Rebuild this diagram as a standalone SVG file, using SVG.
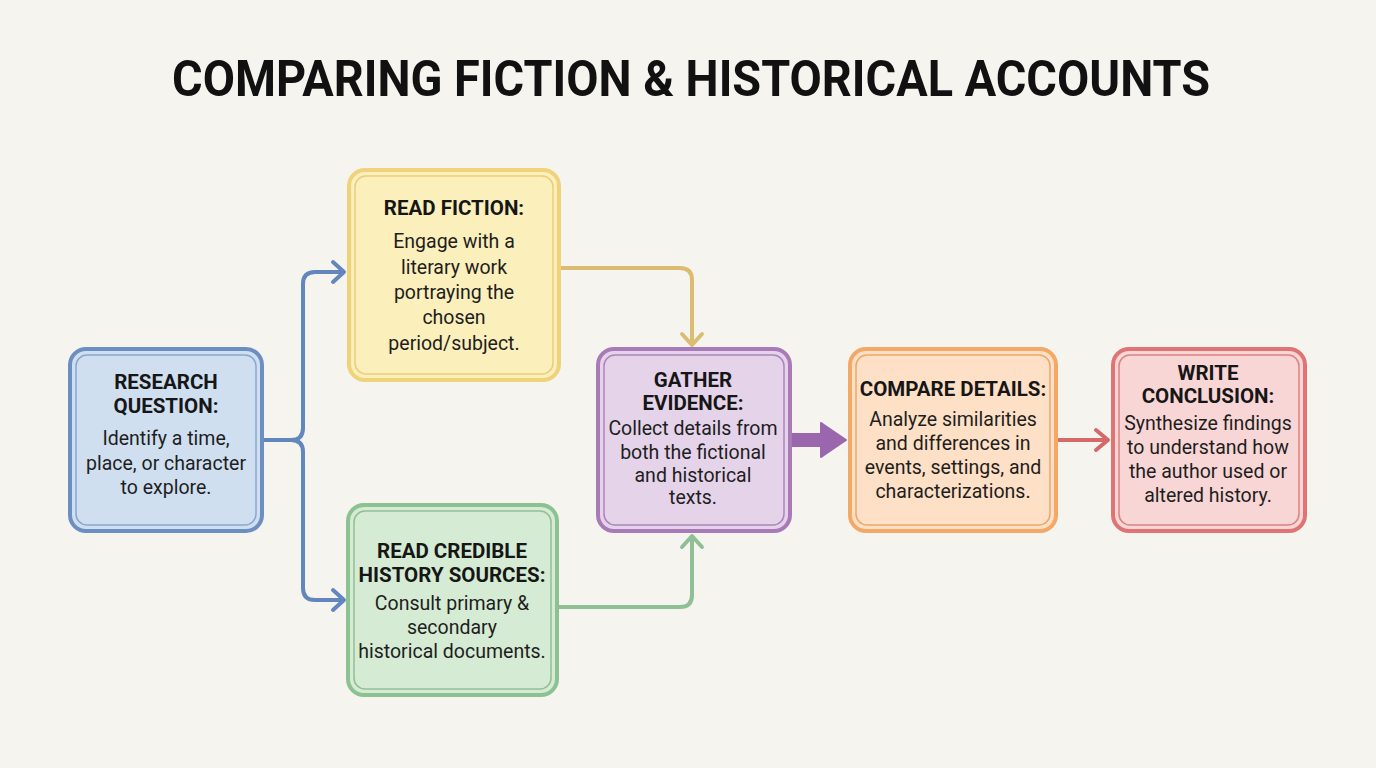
<svg xmlns="http://www.w3.org/2000/svg" width="1376" height="768" viewBox="0 0 1376 768">
<defs>
<style>
.title{font-family:Roboto,"Liberation Sans",sans-serif;font-weight:700;font-size:50px;fill:#111;text-anchor:middle}
.h{font-family:Roboto,"Liberation Sans",sans-serif;font-weight:700;font-size:20.5px;fill:#161616;text-anchor:middle}
.b{font-family:Roboto,"Liberation Sans",sans-serif;font-weight:400;font-size:19.5px;fill:#1e1e1e;text-anchor:middle}
.outer{stroke-width:4}
.inner{fill:none;stroke-width:1.5;stroke-opacity:0.7}
.conn{fill:none;stroke-width:4;stroke-linecap:round;stroke-linejoin:round}
</style>
</defs>
<rect width="1376" height="768" fill="#f5f4ef"/>
<text class="title" x="691" y="96" textLength="1038" lengthAdjust="spacingAndGlyphs">COMPARING FICTION &amp; HISTORICAL ACCOUNTS</text>

<g id="connectors">
<path class="conn" stroke="#6286bd" d="M263,440 H291 Q303,440 303,428 V284 Q303,272 315,272 H343"/>
<path class="conn" stroke="#6286bd" d="M291,440 Q303,440 303,452 V588 Q303,600 315,600 H343"/>
<path class="conn" stroke="#6286bd" d="M333,262 L344,272 L333,282"/>
<path class="conn" stroke="#6286bd" d="M333,590 L344,600 L333,610"/>
<path class="conn" stroke="#dcbc72" d="M560,268 H680 Q692,268 692,280 V344"/>
<path class="conn" stroke="#dcbc72" d="M682,334 L692,345 L702,334"/>
<path class="conn" stroke="#8fbf95" d="M557,607 H680 Q692,607 692,595 V537"/>
<path class="conn" stroke="#8fbf95" d="M682,547 L692,536 L702,547"/>
<path fill="#9a66ad" stroke="#9a66ad" stroke-width="2" stroke-linejoin="round" d="M790,434 H821 V423 L846,440 L821,457 V446 H790 Z"/>
<path class="conn" stroke="#d66a6a" d="M1057,440 H1107"/>
<path class="conn" stroke="#d66a6a" d="M1096,430 L1108,440 L1096,450"/>
</g>

<g id="research">
<rect class="outer" x="70" y="349" width="192" height="182" rx="16" fill="#cfdff0" stroke="#6a8fc0"/>
<rect class="inner" x="76" y="355" width="180" height="170" rx="11" stroke="#6a8fc0"/>
<text class="h" x="166" y="389">RESEARCH</text>
<text class="h" x="166" y="413">QUESTION:</text>
<text class="b" x="166" y="445">Identify a time,</text>
<text class="b" x="166" y="470">place, or character</text>
<text class="b" x="166" y="494">to explore.</text>
</g>

<g id="fiction">
<rect class="outer" x="349" y="170" width="210" height="210" rx="16" fill="#fbefbb" stroke="#f0d27a"/>
<rect class="inner" x="355" y="176" width="198" height="198" rx="11" stroke="#e3bf5e"/>
<text class="h" x="454" y="215">READ FICTION:</text>
<text class="b" x="454" y="248">Engage with a</text>
<text class="b" x="454" y="274">literary work</text>
<text class="b" x="454" y="299">portraying the</text>
<text class="b" x="454" y="324">chosen</text>
<text class="b" x="454" y="350">period/subject.</text>
</g>

<g id="history">
<rect class="outer" x="348" y="505" width="209" height="190" rx="16" fill="#d5ebd3" stroke="#8cc291"/>
<rect class="inner" x="354" y="511" width="197" height="178" rx="11" stroke="#74ad7a"/>
<text class="h" x="452" y="558">READ CREDIBLE</text>
<text class="h" x="452" y="582">HISTORY SOURCES:</text>
<text class="b" x="452" y="610">Consult primary &amp;</text>
<text class="b" x="452" y="634">secondary</text>
<text class="b" x="452" y="658">historical documents.</text>
</g>

<g id="gather">
<rect class="outer" x="598" y="349" width="192" height="182" rx="16" fill="#e5d3ea" stroke="#a97ab8"/>
<rect class="inner" x="604" y="355" width="180" height="170" rx="11" stroke="#9462a6"/>
<text class="h" x="693" y="387">GATHER</text>
<text class="h" x="693" y="410">EVIDENCE:</text>
<text class="b" x="693" y="435">Collect details from</text>
<text class="b" x="693" y="459">both the fictional</text>
<text class="b" x="693" y="482">and historical</text>
<text class="b" x="693" y="504">texts.</text>
</g>

<g id="compare">
<rect class="outer" x="850" y="349" width="206" height="182" rx="16" fill="#fde0c5" stroke="#f3a866"/>
<rect class="inner" x="856" y="355" width="194" height="170" rx="11" stroke="#e58f45"/>
<text class="h" x="953" y="396">COMPARE DETAILS:</text>
<text class="b" x="953" y="426">Analyze similarities</text>
<text class="b" x="953" y="450">and differences in</text>
<text class="b" x="953" y="474">events, settings, and</text>
<text class="b" x="953" y="498">characterizations.</text>
</g>

<g id="conclusion">
<rect class="outer" x="1113" y="349" width="192" height="182" rx="16" fill="#f9d6d6" stroke="#e07474"/>
<rect class="inner" x="1119" y="355" width="180" height="170" rx="11" stroke="#cf5e5e"/>
<text class="h" x="1208" y="380">WRITE</text>
<text class="h" x="1208" y="403">CONCLUSION:</text>
<text class="b" x="1208" y="430">Synthesize findings</text>
<text class="b" x="1208" y="454">to understand how</text>
<text class="b" x="1208" y="478">the author used or</text>
<text class="b" x="1208" y="502">altered history.</text>
</g>
</svg>
